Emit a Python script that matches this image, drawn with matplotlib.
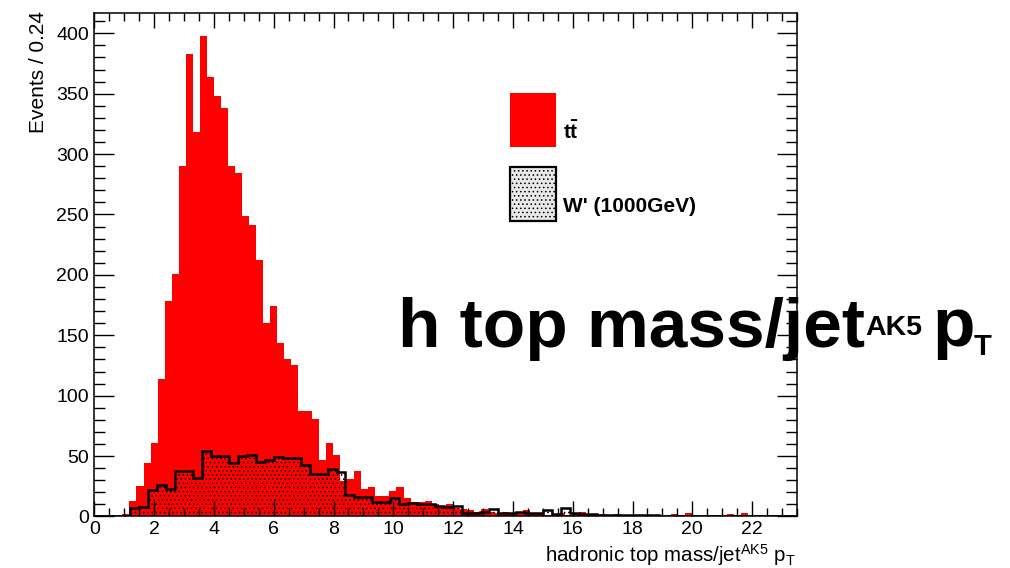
import numpy as np
import matplotlib
matplotlib.use("Agg")
import matplotlib.pyplot as plt
from matplotlib.ticker import MultipleLocator
from matplotlib.patches import Rectangle

plt.rcParams['font.family'] = ['Liberation Sans', 'DejaVu Sans']
plt.rcParams['mathtext.default'] = 'regular'
plt.rcParams['hatch.linewidth'] = 0.6

# ttbar: 100 bins, 0 - 23.5
tt_edges = np.linspace(0, 23.5, 101)
tt_counts = [0, 0, 0, 0, 2, 13, 25, 44, 61, 114,
             178, 201, 290, 383, 318, 398, 364, 348, 338, 290,
             284, 249, 241, 212, 160, 174, 144, 130, 125, 87,
             87, 81, 47, 61, 51, 29, 31, 38, 23, 24,
             17, 17, 21, 24, 15, 12, 12, 13, 10, 9,
             10, 7, 6, 5, 4, 6, 4, 3, 4, 2,
             3, 5, 2, 2, 1, 2, 3, 1, 2, 4,
             2, 1, 2, 1, 2, 1, 1, 1, 0, 1,
             1, 0, 2, 1, 3, 1, 0, 1, 1, 0,
             2, 1, 3, 0, 1, 0, 1, 0, 0, 1]

# W' (1000 GeV): bins of 0.3
wp_counts = [0, 0, 0, 0, 7, 8, 22, 26, 23, 38,
             38, 32, 54, 50, 50, 44, 50, 51, 45, 47,
             49, 48, 48, 43, 35, 35, 39, 37, 18, 16,
             16, 12, 12, 15, 10, 11, 10, 10, 9, 8,
             9, 3, 3, 4, 6, 3, 3, 4, 3, 3,
             5, 2, 7, 3, 2, 2, 1, 1, 1, 1,
             1, 1, 1, 0, 0, 0, 0, 0, 0, 0,
             0, 0, 0, 0, 0, 0, 0, 0]
wp_edges = np.arange(len(wp_counts) + 1) * 0.3

fig = plt.figure(figsize=(10.1, 5.68), dpi=100)
ax = fig.add_axes([0.0934, 0.0907, 0.6957, 0.8869])

ax.stairs(tt_counts, tt_edges, fill=True, color='#ff0000', linewidth=0)
ax.stairs(wp_counts, wp_edges, fill=True, facecolor='none', edgecolor='black',
          hatch='....', linewidth=0)
ax.stairs(wp_counts, wp_edges, color='black', linewidth=1.8)

ax.set_xlim(0, 23.5)
ax.set_ylim(0, 417)

ax.xaxis.set_major_locator(MultipleLocator(2))
ax.xaxis.set_minor_locator(MultipleLocator(0.5))
ax.yaxis.set_major_locator(MultipleLocator(50))
ax.yaxis.set_minor_locator(MultipleLocator(10))
ax.tick_params(which='both', direction='in', top=True, right=True, width=1.0,
               labelsize=14)
ax.tick_params(axis='x', which='major', length=11, pad=3)
ax.tick_params(axis='x', which='minor', length=5.5)
ax.tick_params(axis='y', which='major', length=14.5, pad=4)
ax.tick_params(axis='y', which='minor', length=8)
for s in ax.spines.values():
    s.set_linewidth(1.1)

ax.set_ylabel('Events / 0.24', fontsize=15, loc='top')
ax.yaxis.set_label_coords(-0.066, 1.003)
ax.set_xlabel(r'hadronic top mass/jet$^{AK5}$ p$_{T}$', fontsize=14.8, loc='right')
ax.xaxis.set_label_coords(0.998, -0.05)

# legend
ax.add_patch(Rectangle((0.5916, 0.7334), 0.0655, 0.1072, transform=ax.transAxes,
                       facecolor='#ff0000', edgecolor='none', clip_on=False))
ax.add_patch(Rectangle((0.5916, 0.5865), 0.0655, 0.1072, transform=ax.transAxes,
                       facecolor='#e8e8e8', edgecolor='black', hatch='....',
                       linewidth=1.6, clip_on=False))
ax.text(0.667, 0.7493, r't$\bar{t}$', transform=ax.transAxes, fontsize=15,
        fontweight='bold', va='baseline')
ax.text(0.667, 0.6043, "W' (1000GeV)", transform=ax.transAxes, fontsize=15,
        fontweight='bold', va='baseline')

# big overlay title, built from pieces (small super/subscripts like ROOT)
t1 = ax.text(0.432, 0.3365, 'h top mass/jet', transform=ax.transAxes,
             fontsize=50, fontweight='bold', va='baseline')
t2 = ax.annotate('AK5', xy=(1, 0), xycoords=t1, xytext=(0, 19),
                 textcoords='offset points', fontsize=20.5, fontweight='bold',
                 va='baseline')
t3 = ax.annotate('p', xy=(1, 0), xycoords=(t2, t1), xytext=(7.5, 10.5),
                 textcoords='offset points', fontsize=50, fontweight='bold',
                 va='baseline')
ax.annotate('T', xy=(1, 0), xycoords=(t3, t1), xytext=(-1, 4.5),
            textcoords='offset points', fontsize=21, fontweight='bold',
            va='baseline')

fig.savefig('out.png', dpi=100)
